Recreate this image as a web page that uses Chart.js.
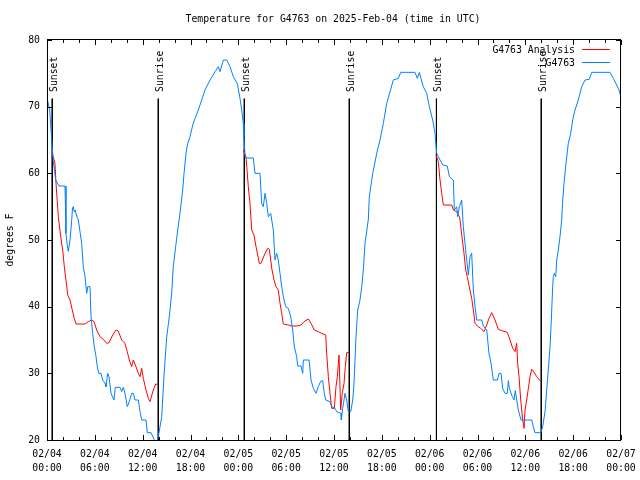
<!DOCTYPE html>
<html>
<head>
<meta charset="utf-8">
<script src="https://cdn.jsdelivr.net/npm/chart.js@4.4.1/dist/chart.umd.min.js"></script>
<style>
html, body { margin: 0; padding: 0; background: #fff; }
</style>
</head>
<body>
<canvas id="chart" width="640" height="480"></canvas>
<script>
// hours since 02/04 00:00 UTC
const obsHours = [0, 0.34, 0.59, 0.79, 1.09, 1.51, 2.26, 2.38, 2.51, 2.67, 2.89, 3.10, 3.20, 3.32, 3.39, 3.51, 3.76, 3.93,
    4.35, 4.55, 4.77, 4.98, 5.11, 5.39, 5.52, 5.73, 5.93, 6.15, 6.31, 6.49, 6.77, 6.99, 7.28, 7.40, 7.61, 7.78, 8.03,
    8.40, 8.57, 9.16, 9.37, 9.57, 9.78, 10.07, 10.32, 10.62, 10.83, 11.04, 11.45, 11.67, 11.88, 12.42, 12.58, 13.05,
    13.46, 13.67, 13.96, 14.39, 14.68, 15.02, 15.34, 15.64, 15.84, 16.14, 16.40, 16.68, 17.02, 17.19, 17.44, 17.60,
    17.94, 18.28, 18.57, 18.98, 19.41, 19.82, 20.45, 21.08, 21.49, 21.70, 22.12, 22.54, 22.96, 23.37, 23.87, 24.21,
    24.42, 24.62, 24.71, 24.84, 25.05, 25.88, 26.09, 26.72, 26.93, 27.13, 27.35, 27.56, 27.76, 28.06, 28.39, 28.60,
    28.81, 29.01, 29.23, 29.44, 29.64, 29.94, 30.27, 30.57, 30.82, 31.02, 31.32, 31.45, 31.86, 32.08, 32.15, 32.87,
    33.12, 33.41, 33.74, 34.03, 34.33, 34.58, 34.78, 34.96, 35.50, 35.71, 36.13, 36.34, 36.88, 36.92, 37.09, 37.38,
    37.59, 37.80, 38.10, 38.35, 38.51, 38.76, 38.97, 39.26, 39.48, 39.68, 39.89, 40.30, 40.43, 40.86, 41.36, 41.77,
    42.19, 42.61, 43.03, 43.44, 44.07, 44.37, 46.16, 46.45, 46.70, 47.20, 47.63, 47.96, 48.38, 48.67, 48.88, 49.30,
    49.64, 50.21, 50.47, 50.97, 51.09, 51.39, 51.52, 51.72, 52.02, 52.22, 52.56, 52.85, 53.06, 53.27, 53.48, 53.69,
    53.90, 54.53, 54.73, 55.16, 55.44, 55.70, 55.98, 56.49, 56.70, 56.95, 57.16, 57.45, 57.74, 57.87, 57.99, 58.37,
    58.58, 58.74, 58.92, 59.12, 59.46, 60.80, 61.00, 61.21, 61.93, 62.18, 62.47, 62.68, 62.88, 63.10, 63.26, 63.43,
    63.51, 63.64, 63.81, 63.94, 64.14, 64.35, 64.56, 64.66, 64.85, 65.10, 65.39, 65.69, 65.94, 66.23, 66.65, 67.07,
    67.49, 68.03, 68.32, 70.62, 71.04, 71.46, 71.75, 72.00];
const obsTemps = [71.3, 69.5, 65, 61.8, 59, 58.1, 58.1, 51, 49.5, 48.3, 50, 53, 54.8, 55, 54.3, 54.5, 53.5, 53,
    49.5, 46, 44.5, 42, 43, 43, 38.5, 36, 34, 32.5, 31, 30, 30, 29, 28.5, 28, 30, 29.5, 27,
    26, 27.9, 27.9, 27.25, 27.9, 27, 25, 25.75, 27, 27, 26, 26, 24.25, 23, 23, 21.1, 21.1,
    20, 19.3, 20.5, 23.5, 29.75, 35.5, 38.5, 42, 46, 49, 51.5, 54, 57.5, 60, 63, 64.25,
    65.5, 67.25, 68.25, 69.5, 71, 72.5, 74, 75.25, 76, 75.25, 77, 77, 76, 74.5, 73.5, 71.25,
    69.5, 67.5, 65.5, 62.5, 62.3, 62.3, 60, 60, 55.5, 55, 57, 55.5, 53.5, 54, 51.5, 47,
    48, 47, 45, 43, 41.5, 40, 39.75, 38.5, 36.5, 34, 32.5, 31.1, 31.1, 30, 32, 32,
    29, 27.75, 27, 28, 28.8, 28.9, 27, 26, 25.75, 25, 24.75, 24.25, 24, 23, 24.75, 27,
    26, 24.25, 24.25, 26, 28.5, 35.5, 39.5, 41, 43, 45.5, 49.5, 53, 56.5, 60, 63, 65,
    67.5, 70.5, 72.25, 74, 74.25, 75.15, 75.15, 74.25, 75.15, 73, 72, 70, 68, 66, 63, 62,
    61.25, 61.1, 59.5, 59, 54.5, 55, 53.5, 55, 56, 52, 48, 44.75, 47.5, 48, 42.5, 40,
    38, 38, 37.1, 36.5, 33, 31.5, 29, 29, 30, 30, 27.75, 27, 27, 28.9, 27.75, 26.5,
    26, 27.4, 26, 24.5, 23, 23, 22, 21.1, 21.1, 22, 24.25, 27.5, 30.5, 34, 38, 43,
    44.5, 45, 44.5, 47, 48.5, 50.5, 53, 55.5, 58.5, 61.5, 64.5, 66, 68, 69.5, 71, 73,
    74, 74.1, 75.15, 75.15, 74.25, 73.25, 72.5, 71.5];

const anaHours = [0.66, 1.00, 1.13, 1.42, 1.72, 1.97, 2.17, 2.38, 2.60, 2.89, 3.17, 3.42, 3.64, 4.77, 5.18, 5.61,
    5.90, 6.23, 6.65, 7.06, 7.49, 7.78, 8.24, 8.66, 8.94, 9.37, 9.78, 10.07, 10.32, 10.62, 10.83, 11.16, 11.45,
    11.67, 11.88, 12.08, 12.42, 12.71, 12.92, 13.33, 13.64, 13.89,
    19,
    24.62, 24.96, 25.25, 25.46, 25.68, 25.96, 26.22, 26.63, 26.84, 27.35, 27.69, 27.89, 28.19, 28.48, 28.73, 29.01,
    29.23, 29.44, 29.64, 30.27, 30.69, 31.32, 31.86, 32.24, 32.78, 33.12, 33.53, 34.03, 34.46, 34.96, 35.08, 35.29,
    35.50, 35.71, 36.04, 36.25, 36.42, 36.63, 36.84, 37.04, 37.26, 37.42, 37.59, 37.88,
    43,
    48.80, 49.09, 49.30, 49.51, 49.71, 50.77, 50.97, 51.39, 51.72, 51.81, 52.10, 52.31, 52.52, 52.72, 52.97, 53.27,
    53.48, 53.69, 53.98, 54.40, 54.82, 55.16, 55.44, 55.78, 56.20, 56.61, 57.04, 57.74, 58.08, 58.42, 58.71, 58.92,
    59.04, 59.21, 59.42, 59.67, 59.84, 59.96, 60.17, 60.38, 60.59, 60.80, 61.00, 61.43, 61.76, 61.93];
const anaTemps = [63, 61.5, 58.5, 53.5, 50.5, 48.5, 46, 44, 41.75, 41, 39.5, 38.25, 37.4, 37.4, 37.75, 38,
    37.75, 36.5, 35.5, 35.1, 34.5, 34.6, 35.75, 36.5, 36.35, 35, 34.5, 33.25, 32, 31, 32, 31, 30,
    29.5, 30.75, 29.25, 27.5, 26.25, 25.75, 27.5, 28.4, 28.35,
    null,
    63.5, 62.5, 58, 55.5, 51.5, 50.75, 49, 46.5, 46.5, 48, 48.75, 48.6, 45.75, 44, 43, 42.5,
    40.5, 39, 37.4, 37.25, 37.1, 37.1, 37.25, 37.75, 38.15, 37.5, 36.5, 36.25, 36, 35.75, 33, 29.5,
    27, 24.75, 24.75, 28, 29.5, 32.75, 24.5, 27, 28.5, 31, 33.1, 33.1,
    null,
    62.75, 61.75, 59, 57, 55.25, 55.25, 54.5, 54.25, 53.5, 53, 50, 48, 45.5, 44.5, 43, 41.25,
    39.5, 37.5, 37.1, 36.75, 36.25, 37.25, 38.25, 39.1, 38, 36.6, 36.4, 36.15, 35, 33.75, 33.25, 34.5,
    31.5, 29.5, 26, 23, 21.75, 24.5, 26, 27.75, 29.5, 30.6, 30.35, 29.5, 29, 28.9];

const sunHours = [0.66, 13.96, 24.75, 37.92, 48.85, 62.0];
const sunLabels = ['Sunset', 'Sunrise', 'Sunset', 'Sunrise', 'Sunset', 'Sunrise'];

const xTickLabels = [
    ['02/04', '00:00'], ['02/04', '06:00'], ['02/04', '12:00'], ['02/04', '18:00'],
    ['02/05', '00:00'], ['02/05', '06:00'], ['02/05', '12:00'], ['02/05', '18:00'],
    ['02/06', '00:00'], ['02/06', '06:00'], ['02/06', '12:00'], ['02/06', '18:00'],
    ['02/07', '00:00']
];

const titleText = 'Temperature for G4763 on 2025-Feb-04 (time in UTC)';
const yTitle = 'degrees F';

const FONT = 'DejaVu Sans Mono';
const fontSpec = '9.8px "' + FONT + '"';

Chart.defaults.color = '#000';
Chart.defaults.font.family = FONT;
Chart.defaults.font.size = 9.8;

const toPoints = (xs, ys) => xs.map((h, i) => ({ x: h, y: ys[i] }));

const sunDatasets = sunHours.map(h => ({
    label: 'sun',
    data: [{ x: h, y: 71.2 }, { x: h, y: 20 }],
    borderColor: '#000',
    borderWidth: 1,
    pointRadius: 0,
    order: 3
}));

// frame, inward ticks, title, legend and sun labels drawn gnuplot style
const gnuplotDecor = {
    id: 'gnuplotDecor',
    afterDraw(chart) {
        const { ctx, chartArea: a, scales: { x, y } } = chart;
        ctx.save();
        ctx.strokeStyle = '#000';
        ctx.lineWidth = 1;
        ctx.strokeRect(a.left + 0.5, a.top - 0.5, a.right - a.left - 1, a.bottom - a.top + 1);

        ctx.beginPath();
        for (let h = 0; h <= 72; h += 2) {
            const px = Math.round(x.getPixelForValue(h)) + 0.5;
            const len = h % 6 === 0 ? 5 : 3;
            ctx.moveTo(px, a.bottom); ctx.lineTo(px, a.bottom - len);
            ctx.moveTo(px, a.top); ctx.lineTo(px, a.top + len);
        }
        for (let v = 20; v <= 80; v += 10) {
            const py = Math.round(y.getPixelForValue(v)) + 0.5;
            ctx.moveTo(a.left, py); ctx.lineTo(a.left + 5, py);
            ctx.moveTo(a.right, py); ctx.lineTo(a.right - 5, py);
        }
        ctx.stroke();

        ctx.fillStyle = '#000';
        ctx.font = fontSpec;
        ctx.textAlign = 'center';
        ctx.textBaseline = 'middle';
        ctx.fillText(titleText, 333, 19);

        ctx.save();
        ctx.translate(10, 240);
        ctx.rotate(-Math.PI / 2);
        ctx.fillText(yTitle, 0, 0);
        ctx.restore();

        sunHours.forEach((h, i) => {
            const px = Math.round(x.getPixelForValue(h));
            ctx.save();
            ctx.translate(px + 4.5, 92);
            ctx.rotate(-Math.PI / 2);
            ctx.textAlign = 'left';
            ctx.textBaseline = 'alphabetic';
            ctx.fillText(sunLabels[i], 0, 0);
            ctx.restore();
        });

        // legend
        chart.data.datasets.slice(0, 2).forEach((ds, i) => {
            const ly = 50 + i * 13;
            ctx.textAlign = 'right';
            ctx.textBaseline = 'middle';
            ctx.fillStyle = '#000';
            ctx.fillText(ds.label, 575, ly);
            ctx.strokeStyle = ds.borderColor;
            ctx.beginPath();
            ctx.moveTo(582, ly - 0.5);
            ctx.lineTo(610, ly - 0.5);
            ctx.stroke();
        });
        ctx.restore();
    }
};

new Chart(document.getElementById('chart'), {
    type: 'line',
    data: {
        datasets: [
            {
                label: 'G4763 Analysis',
                data: toPoints(anaHours, anaTemps),
                borderColor: '#ff0000',
                borderWidth: 1,
                pointRadius: 0,
                spanGaps: false,
                order: 2
            },
            {
                label: 'G4763',
                data: toPoints(obsHours, obsTemps),
                borderColor: '#0080ff',
                borderWidth: 1,
                pointRadius: 0,
                order: 1
            },
            ...sunDatasets
        ]
    },
    options: {
        responsive: false,
        animation: false,
        layout: { padding: { top: 40, right: 19, left: 0, bottom: 0 } },
        plugins: {
            legend: { display: false },
            tooltip: { enabled: false }
        },
        scales: {
            x: {
                type: 'linear',
                min: 0,
                max: 72,
                afterFit: s => {
                    s.height = 40;
                    s.paddingLeft = 0;
                    s.paddingRight = 0;
                },
                grid: { display: false, drawTicks: false },
                border: { display: false },
                ticks: {
                    stepSize: 6,
                    padding: 7,
                    maxRotation: 0,
                    autoSkip: false,
                    font: { size: 9.8, lineHeight: 1.45 },
                    callback: (v, i) => xTickLabels[i]
                }
            },
            y: {
                min: 20,
                max: 80,
                afterFit: s => {
                    s.width = 47;
                    s.paddingTop = 0;
                    s.paddingBottom = 0;
                },
                grid: { display: false, drawTicks: false },
                border: { display: false },
                ticks: { stepSize: 10, padding: 7 }
            }
        }
    },
    plugins: [gnuplotDecor]
});
</script>
</body>
</html>
